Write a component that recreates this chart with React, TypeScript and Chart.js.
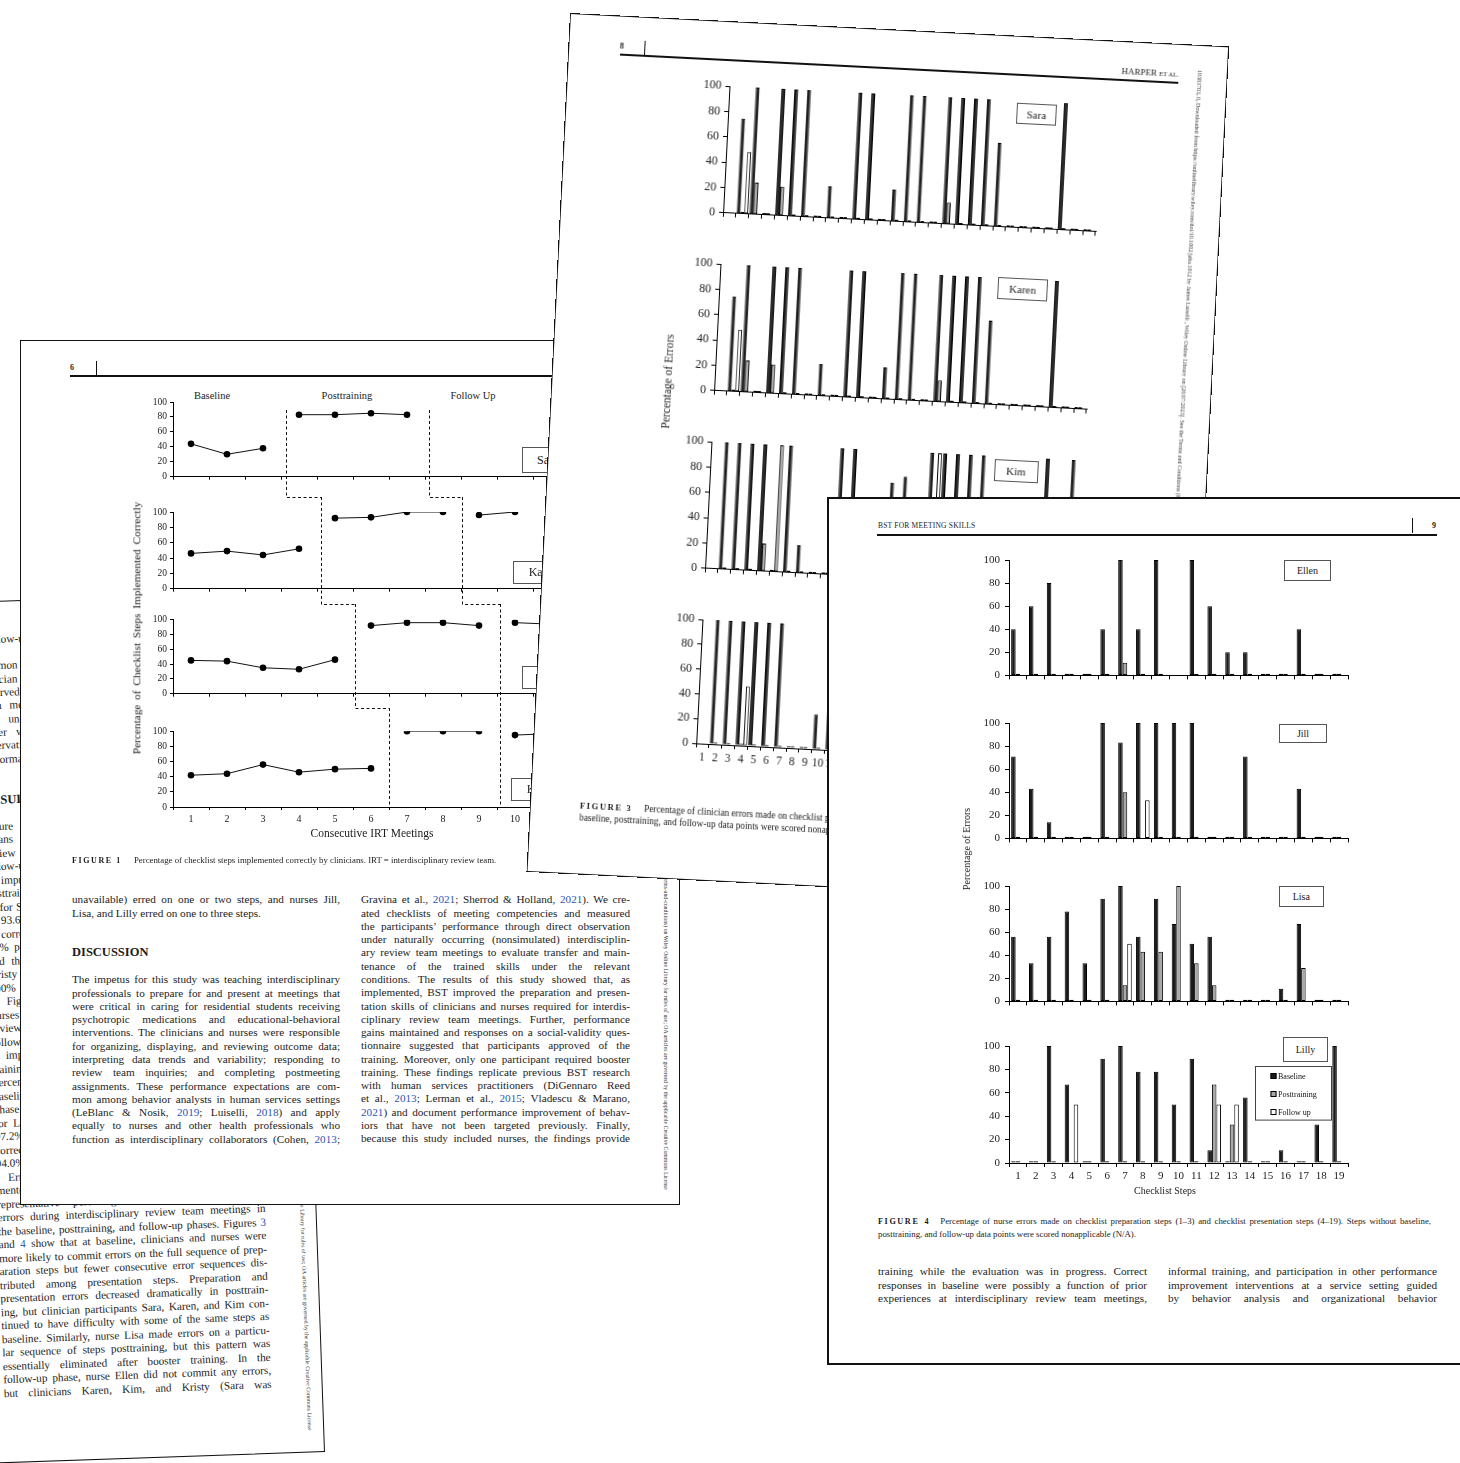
import React, { useEffect, useRef } from "react";
import { Chart, registerables } from "chart.js";

Chart.register(...registerables);

const SERIF = '"Liberation Serif", "Times New Roman", Times, serif';
Chart.defaults.font.family = SERIF;

// ================= FIGURE 4 : nurse errors (19 checklist steps) =================
const nurseSteps = ["1", "2", "3", "4", "5", "6", "7", "8", "9", "10", "11", "12", "13", "14", "15", "16", "17", "18", "19"];
const seriesNames = ["Baseline", "Posttraining", "Follow up"];

const ellenBaseline = [40, 60, 80, 1.5, 1.5, 40, 100, 40, 100, null, 100, 60, 20, 20, 1.5, 1.5, 40, 1.5, 1.5];
const ellenPost = [1.5, 1.5, 1.5, 1.5, 1.5, 1.5, 11, 1.5, 1.5, null, 1.5, 1.5, 1.5, 1.5, 1.5, 1.5, 1.5, 1.5, 1.5];
const ellenFollow = [null, null, null, null, null, null, null, null, null, null, null, null, null, null, null, null, null, null, null];

const jillBaseline = [71, 43, 14, 1.5, 1.5, 100, 83, 100, 100, 100, 100, 1.5, 1.5, 71, 1.5, 1.5, 43, 1.5, 1.5];
const jillPost = [1.5, 1.5, 1.5, 1.5, 1.5, 1.5, 40, null, 1.5, 1.5, 1.5, 1.5, 1.5, 1.5, 1.5, 1.5, 1.5, 1.5, 1.5];
const jillFollow = [null, null, null, null, null, null, null, 33, null, null, null, null, null, null, null, null, null, null, null];

const lisaBaseline = [56, 33, 56, 78, 33, 89, 100, 56, 89, 67, 50, 56, 1.5, 1.5, 1.5, 11, 67, 1.5, 1.5];
const lisaPost = [1.5, 1.5, 1.5, 1.5, 1.5, 1.5, 14, 43, 43, 100, 33, 14, 1.5, 1.5, 1.5, 1.5, 29, 1.5, 1.5];
const lisaFollow = [null, null, null, null, null, null, 50, null, null, null, null, null, null, null, null, null, null, null, null];

const lillyBaseline = [1.5, 1.5, 100, 67, 1.5, 89, 100, 78, 78, 50, 89, 11, 1.5, 56, 1.5, 11, 1.5, 33, 100];
const lillyPost = [1.5, 1.5, 1.5, null, 1.5, 1.5, 1.5, 1.5, 1.5, 1.5, 1.5, 67, 33, 1.5, 1.5, 1.5, 1.5, 1.5, 1.5];
const lillyFollow = [null, null, null, 50, null, null, null, null, null, null, null, 50, 50, null, null, null, null, null, null];

// ================= FIGURE 3 : clinician errors (29 checklist steps) =================
const clinicianSteps = ["1", "2", "3", "4", "5", "6", "7", "8", "9", "10", "11", "12", "13", "14", "15", "16", "17", "18", "19", "20", "21", "22", "23", "24", "25", "26", "27", "28", "29"];

const saraErrBaseline = [null, 75, 100, 1.5, 100, 100, 100, 1.5, 25, 1.5, 100, 100, 1.5, 25, 100, 100, 1.5, 100, 100, 100, 100, 66, 1.5, 1.5, 1.5, 1.5, 100, 1.5, 1.5];
const saraErrPost = [null, 1.5, 25, 1.5, 23, 1.5, 1.5, 1.5, 1.5, 1.5, 1.5, 1.5, 1.5, 1.5, 1.5, 1.5, 1.5, 17, 1.5, 1.5, 1.5, 1.5, 1.5, 1.5, 1.5, 1.5, 1.5, 1.5, 1.5];
const saraErrFollow = [null, 49, null, null, null, null, null, null, null, null, null, null, null, null, null, null, null, null, null, null, null, null, null, null, null, null, null, null, null];

const karenErrBaseline = [null, 75, 100, 1.5, 100, 100, 100, 1.5, 25, 1.5, 100, 100, 1.5, 25, 100, 100, 1.5, 100, 100, 100, 100, 66, 1.5, 1.5, 1.5, 1.5, 100, 1.5, 1.5];
const karenErrPost = [null, 1.5, 25, 1.5, 23, 1.5, 1.5, 1.5, 1.5, 1.5, 1.5, 1.5, 1.5, 1.5, 1.5, 1.5, 1.5, 17, 1.5, 1.5, 1.5, 1.5, 1.5, 1.5, 1.5, 1.5, 1.5, 1.5, 1.5];
const karenErrFollow = [null, 49, null, null, null, null, null, null, null, null, null, null, null, null, null, null, null, null, null, null, null, null, null, null, null, null, null, null, null];

const kimErrBaseline = [null, 100, 100, 100, 100, 1.5, 100, 22, 1.5, 1.5, 100, 100, 1.5, 1.5, 75, 80, 1.5, 100, 100, 100, 100, 100, 1.5, 1.5, 1.5, 1.5, 100, 1.5, 100];
const kimErrPost = [null, 1.5, 1.5, 1.5, 22, 100, 1.5, 1.5, 1.5, 1.5, 1.5, 1.5, 1.5, 1.5, 1.5, 1.5, 1.5, 1.5, 1.5, 1.5, 1.5, 1.5, 1.5, 1.5, 1.5, 1.5, 1.5, 1.5, 1.5];
const kimErrFollow = [null, null, null, null, null, null, null, null, null, null, null, null, null, null, null, null, null, 100, null, null, null, null, null, null, null, null, null, null, null];

const kristyErrBaseline = [null, 100, 100, 100, 100, 100, 100, 1.5, 1.5, 28, 45, 1.5, 1.5, 1.5, 1.5, 1.5, 1.5, 1.5, 1.5, 1.5, 1.5, 1.5, 1.5, 1.5, 1.5, 1.5, 1.5, 1.5, 1.5];
const kristyErrPost = [null, 1.5, 1.5, 1.5, 1.5, 1.5, 1.5, 1.5, 1.5, 1.5, 1.5, 1.5, 1.5, 1.5, 1.5, 1.5, 1.5, 1.5, 1.5, 1.5, 1.5, 1.5, 1.5, 1.5, 1.5, 1.5, 1.5, 1.5, 1.5];
const kristyErrFollow = [null, null, null, 48, null, null, null, null, null, null, null, null, null, null, null, null, null, null, null, null, null, null, null, null, null, null, null, null, null];

// ================= FIGURE 1 : % checklist steps correct per IRT meeting =================
const meetingLabels = ["1", "2", "3", "4", "5", "6", "7", "8", "9", "10", "11", "12"];
const saraCorrect = [44, 30, 38, 83, 83, 85, 83, null, null, null, null, null];
const karenCorrect = [46, 49, 44, 52, 92, 93, 100, 100, 96, 100, null, null];
const lisaCorrect = [45, 44, 35, 33, 46, 92, 96, 96, 92, 96, 94, null];
const kristyCorrect = [42, 44, 56, 46, 50, 51, 100, 100, 100, 95, 97, null];
const saraPhase = ["B", "B", "B", "P", "P", "P", "P", "F", "F", "F", "F", "F"];
const karenPhase = ["B", "B", "B", "B", "P", "P", "P", "P", "F", "F", "F", "F"];
const lisaPhase = ["B", "B", "B", "B", "B", "P", "P", "P", "P", "F", "F", "F"];
const kristyPhase = ["B", "B", "B", "B", "B", "B", "P", "P", "P", "F", "F", "F"];
const phaseOrder = ["B", "P", "F"];
const phaseTitles = ["Baseline", "Posttraining", "Follow Up"];
// positions of the dashed phase-change lines, in meeting-index units (0 = meeting 1)
const baselineChangeAt = [2.65, 3.6, 4.56, 5.5];
const followUpChangeAt = [6.6, 7.52, 8.57, 8.57];

// ================= text =================
const WILEY_NOTE =
  "19383703, 0, Downloaded from https://onlinelibrary.wiley.com/doi/10.1002/jaba.1012 by James Luiselli , Wiley Online Library on [20/07/2023]. See the Terms and Conditions (https://onlinelibrary.wiley.com/terms-and-conditions) on Wiley Online Library for rules of use; OA articles are governed by the applicable Creative Commons License";

const fig1LeftTop = ["unavailable) erred on one or two steps, and nurses Jill,", "Lisa, and Lilly erred on one to three steps.¶"];
const fig1Discussion = [
  "The impetus for this study was teaching interdisciplinary",
  "professionals to prepare for and present at meetings that",
  "were critical in caring for residential students receiving",
  "psychotropic medications and educational-behavioral",
  "interventions. The clinicians and nurses were responsible",
  "for organizing, displaying, and reviewing outcome data;",
  "interpreting data trends and variability; responding to",
  "review team inquiries; and completing postmeeting",
  "assignments. These performance expectations are com-",
  "mon among behavior analysts in human services settings",
  "(LeBlanc & Nosik, {2019}; Luiselli, {2018}) and apply",
  "equally to nurses and other health professionals who",
  "function as interdisciplinary collaborators (Cohen, {2013};",
];
const fig1Right = [
  "Gravina et al., {2021}; Sherrod & Holland, {2021}). We cre-",
  "ated checklists of meeting competencies and measured",
  "the participants’ performance through direct observation",
  "under naturally occurring (nonsimulated) interdisciplin-",
  "ary review team meetings to evaluate transfer and main-",
  "tenance of the trained skills under the relevant",
  "conditions. The results of this study showed that, as",
  "implemented, BST improved the preparation and presen-",
  "tation skills of clinicians and nurses required for interdis-",
  "ciplinary review team meetings. Further, performance",
  "gains maintained and responses on a social-validity ques-",
  "tionnaire suggested that participants approved of the",
  "training. Moreover, only one participant required booster",
  "training. These findings replicate previous BST research",
  "with human services practitioners (DiGennaro Reed",
  "et al., {2013}; Lerman et al., {2015}; Vladescu & Marano,",
  "{2021}) and document performance improvement of behav-",
  "iors that have not been targeted previously. Finally,",
  "because this study included nurses, the findings provide",
];
const fig4Left = [
  "training while the evaluation was in progress. Correct",
  "responses in baseline were possibly a function of prior",
  "experiences at interdisciplinary review team meetings,",
];
const fig4Right = [
  "informal training, and participation in other performance",
  "improvement interventions at a service setting guided",
  "by behavior analysis and organizational behavior",
];
const backTop = [
  "a follow-up meeting was scheduled each month.¶",
  "¶",
  "common among practitioners. A second observer (clin-",
  "clinician or supervisor) simultaneously but independently",
  "observed 33% of meetings in each phase for each par-",
  "team member. Agreement was calculated by dividing",
  "was unavailable for some sessions and calculated",
  "rather with agreements divided by agreements plus",
  "observation disagreements and multiplied by 100. Mean",
  "performance agreement was 96.4% (range, 90%–100%).¶",
];
const backBody = [
  "Figure {1} shows the percentage of checklist steps that",
  "means of the clinicians implemented correctly during",
  "review team meetings in the baseline, posttraining, and",
  "follow-up phases. Baseline levels were low and stable, and",
  "an improvement was evident for each clinician following",
  "posttraining. Mean correct implementation in baseline",
  "as for Sara, whose mean increased from 37.3% in baseline",
  "of 93.6% in posttraining. Karen’s mean increased to 95.8",
  "% correct, and Kim’s mean increased from 36.8% to 94.1",
  "91% posttraining, and Kristy’s increased from 47.3% to",
  "and then remained at or near 100% during follow-up.",
  "Kristy was the only clinician who required booster",
  "100% and maintained this performance during follow-up.",
  "In Figure {2}, the percentage of steps implemented by",
  "nurses during interdisciplinary review team meetings is",
  "reviewed across phases. Nurses Ellen and Jill showed",
  "follow-up data similar to posttraining. Baseline correct",
  "at implementation ranged from 40% to 55%, and post-",
  "training produced immediate improvement. Mean per-",
  "percentage correct for Ellen was 51.0% in baseline and",
  "baseline and 98.0% in posttraining; for Jill, 48.3% in",
  "phase; for Lisa, 40.2% in baseline and 84.5% posttrain-",
  "for Lilly, 43.0% in baseline and 97.2% in posttraining,",
  "97.2% correct. Lisa required booster training, after which",
  "correct implementation increased to a mean of 100% and",
  "94.0% during follow-up for all four nurses.¶",
  "»Errors were scored for each checklist step imple-",
  "mented by participants, and Figures {3} and {4} show the",
  "representative percentage of checklist steps with",
  "errors during interdisciplinary review team meetings in",
  "the baseline, posttraining, and follow-up phases. Figures {3}",
  "and {4} show that at baseline, clinicians and nurses were",
  "more likely to commit errors on the full sequence of prep-",
  "aration steps but fewer consecutive error sequences dis-",
  "tributed among presentation steps. Preparation and",
  "presentation errors decreased dramatically in posttrain-",
  "ing, but clinician participants Sara, Karen, and Kim con-",
  "tinued to have difficulty with some of the same steps as",
  "baseline. Similarly, nurse Lisa made errors on a particu-",
  "lar sequence of steps posttraining, but this pattern was",
  "essentially eliminated after booster training. In the",
  "follow-up phase, nurse Ellen did not commit any errors,",
  "but clinicians Karen, Kim, and Kristy (Sara was",
];

// ================= helpers =================
type Pad = { l: number; t: number; r: number; b: number };
type Box = { x: number; y: number; w: number; h: number };
const seriesFill = ["#1b1b1b", "#a8a8a8", "#ffffff"];

function ChartCanvas({ box, pad, make }: { box: Box; pad: Pad; make: () => any }) {
  const ref = useRef<HTMLCanvasElement | null>(null);
  const W = Math.round(box.w + pad.l + pad.r);
  const H = Math.round(box.h + pad.t + pad.b);
  useEffect(() => {
    if (!ref.current) return;
    const chart = new Chart(ref.current, make());
    return () => chart.destroy();
  }, []);
  return (
    <canvas
      ref={ref}
      width={W}
      height={H}
      style={{ position: "absolute", left: box.x - pad.l, top: box.y - pad.t, width: W, height: H, display: "block" }}
    />
  );
}

function axisOptions(pad: Pad, showX: boolean, xFont: number, yFont: number, yPad: number, tick: number) {
  return {
    x: {
      type: "category",
      offset: true,
      grid: { display: true, offset: true, drawOnChartArea: false, drawTicks: true, tickLength: tick, color: "#000", lineWidth: 1 },
      border: { display: true, color: "#000", width: 1 },
      ticks: { display: showX, autoSkip: false, maxRotation: 0, minRotation: 0, padding: 3, color: "#222", font: { family: SERIF, size: xFont } },
      afterFit: (s: any) => { s.height = pad.b; },
    },
    y: {
      type: "linear",
      min: 0,
      max: 100,
      grid: { display: true, drawOnChartArea: false, drawTicks: true, tickLength: tick, color: "#000", lineWidth: 1 },
      border: { display: true, color: "#000", width: 1 },
      ticks: { stepSize: 20, padding: yPad, color: "#222", font: { family: SERIF, size: yFont } },
      afterFit: (s: any) => { s.width = pad.l; },
    },
  };
}

function commonOptions(pad: Pad) {
  return {
    responsive: false,
    animation: false,
    devicePixelRatio: 1,
    events: [],
    layout: { padding: { left: 0, top: pad.t, right: pad.r, bottom: 0 } },
    plugins: { legend: { display: false }, tooltip: { enabled: false }, title: { display: false } },
  };
}

// boxed legend drawn inside the plot area (like the Excel legend of the original)
function boxLegendPlugin(dx: number, dy: number, w: number, h: number) {
  return {
    id: "boxLegend",
    afterDraw(chart: any) {
      const { ctx, chartArea } = chart;
      const x = Math.round(chartArea.left + dx) + 0.5;
      const y = Math.round(chartArea.top + dy) + 0.5;
      ctx.save();
      ctx.fillStyle = "#fff";
      ctx.fillRect(x, y, w, h);
      ctx.strokeStyle = "#444";
      ctx.lineWidth = 1;
      ctx.strokeRect(x, y, w, h);
      ctx.font = `8px ${SERIF}`;
      ctx.textBaseline = "middle";
      chart.data.datasets.forEach((ds: any, i: number) => {
        const cy = Math.round(y + 9 + i * 18);
        ctx.fillStyle = ds.backgroundColor;
        ctx.fillRect(x + 15, cy - 3, 6, 6);
        ctx.strokeStyle = "#000";
        ctx.strokeRect(x + 15.5, cy - 2.5, 5, 5);
        ctx.fillStyle = "#111";
        ctx.fillText(ds.label, x + 22.5, cy + 0.5);
      });
      ctx.restore();
    },
  };
}

function barConfig(labels: string[], series: any[][], pad: Pad, o: { showX: boolean; xFont: number; yFont: number; yPad: number; catPct: number }, plugins: any[] = []) {
  return {
    type: "bar",
    data: {
      labels,
      datasets: series.map((data, i) => ({
        label: seriesNames[i],
        data,
        backgroundColor: seriesFill[i],
        borderColor: "#000",
        borderWidth: 1,
        borderSkipped: false,
        categoryPercentage: o.catPct,
        barPercentage: 1,
      })),
    },
    options: { ...commonOptions(pad), scales: axisOptions(pad, o.showX, o.xFont, o.yFont, o.yPad, 4) },
    plugins,
  };
}

function phasePlugin(at: number, atF: number, next: number | null, nextF: number | null, step: number, first: boolean) {
  return {
    id: "phaseLines",
    afterDatasetsDraw(chart: any) {
      const { ctx, chartArea, scales } = chart;
      const x = scales.x;
      ctx.save();
      ctx.strokeStyle = "#111";
      ctx.lineWidth = 1;
      ctx.setLineDash([3, 2.5]);
      const pairs: [number, number | null][] = [[at, next], [atF, nextF]];
      for (const [a, n] of pairs) {
        const px = Math.round(x.getPixelForValue(a)) + 0.5;
        const y0 = first ? chartArea.top + 8 : 0;
        const y1 = n === null ? chartArea.bottom : Math.round(chartArea.bottom + step) + 0.5;
        ctx.beginPath();
        ctx.moveTo(px, y0);
        ctx.lineTo(px, y1);
        if (n !== null) ctx.lineTo(Math.round(x.getPixelForValue(n)) + 0.5, y1);
        ctx.stroke();
      }
      ctx.restore();
    },
  };
}

function lineConfig(values: (number | null)[], phases: string[], pad: Pad, showX: boolean, plugin: any) {
  return {
    type: "line",
    data: {
      labels: meetingLabels,
      datasets: phaseOrder.map((ph) => ({
        data: values.map((v, i) => (phases[i] === ph ? v : null)),
        borderColor: "#111",
        borderWidth: 1,
        pointRadius: 3.3,
        pointBackgroundColor: "#000",
        pointBorderColor: "#000",
        pointBorderWidth: 0,
        spanGaps: false,
        tension: 0,
        fill: false,
      })),
    },
    options: { ...commonOptions(pad), scales: axisOptions(pad, showX, 10, 9.5, 3, 3) },
    plugins: [plugin],
  };
}

function rich(s: string) {
  return s.split(/(\{[^}]*\})/).map((p, i) =>
    p.startsWith("{") ? <span key={i} style={{ color: "#2b55b8" }}>{p.slice(1, -1)}</span> : <span key={i}>{p}</span>
  );
}

function TextBlock({ x, y, w, lh, size, lines, color = "#1c1c1c" }: any) {
  return (
    <div style={{ position: "absolute", left: x, top: y, width: w, fontFamily: SERIF, fontSize: size, color }}>
      {lines.map((ln: string, i: number) => {
        const last = ln.endsWith("¶");
        let t = last ? ln.slice(0, -1) : ln;
        const indent = t.startsWith("»");
        if (indent) t = t.slice(1);
        return (
          <div
            key={i}
            style={{
              position: "absolute",
              left: 0,
              top: i * lh,
              width: w,
              height: lh,
              lineHeight: `${lh}px`,
              whiteSpace: "nowrap",
              textAlign: last ? "left" : "justify",
              textAlignLast: last ? "left" : "justify",
              textIndent: indent ? 12 : 0,
            }}
          >
            {rich(t)}
          </div>
        );
      })}
    </div>
  );
}

function Txt({ x, y, size, children, bold, center, style }: any) {
  return (
    <div
      style={{
        position: "absolute",
        left: x,
        top: y,
        transform: center ? "translate(-50%,-50%)" : "translateY(-50%)",
        whiteSpace: "nowrap",
        fontFamily: SERIF,
        fontSize: size,
        fontWeight: bold ? 700 : 400,
        color: "#1c1c1c",
        lineHeight: 1,
        ...style,
      }}
    >
      {children}
    </div>
  );
}

function VTitle({ cx, cy, size, text, ws = 0 }: any) {
  return (
    <div
      style={{
        position: "absolute",
        left: cx,
        top: cy,
        transform: "translate(-50%,-50%) rotate(-90deg)",
        whiteSpace: "nowrap",
        fontFamily: SERIF,
        fontSize: size,
        color: "#222",
        wordSpacing: ws,
        lineHeight: 1,
      }}
    >
      {text}
    </div>
  );
}

function NameBox({ x, y, w, h, text, size }: any) {
  return (
    <div
      style={{
        position: "absolute", left: x, top: y, width: w, height: h, boxSizing: "border-box",
        border: "1px solid #555", background: "#fff", display: "flex", alignItems: "center",
        justifyContent: "center", fontFamily: SERIF, fontSize: size, color: "#222",
      }}
    >
      {text}
    </div>
  );
}

function MarginNote({ x, top, bottom, size }: any) {
  return (
    <div
      style={{
        position: "absolute", left: x, top, bottom, writingMode: "vertical-rl", whiteSpace: "nowrap",
        fontFamily: SERIF, fontSize: size, color: "#333", lineHeight: 1,
      }}
    >
      {WILEY_NOTE}
    </div>
  );
}

function Frame({ w = 2 }: any) {
  return <div style={{ position: "absolute", inset: 0, border: `${w}px solid #111`, pointerEvents: "none" }} />;
}

function Header({ num, numX, barX, y, ruleFrom, ruleTo, right }: any) {
  return (
    <>
      <Txt x={numX} y={y - 7} size={8} bold center>{num}</Txt>
      <div style={{ position: "absolute", left: barX, top: y - 14, width: 1.3, height: 14, background: "#111" }} />
      <div style={{ position: "absolute", left: ruleFrom, top: y, width: ruleTo - ruleFrom, height: 1.5, background: "#111" }} />
      {right}
    </>
  );
}

// ================= pages =================
function BackPage() {
  return (
    <div style={{ position: "absolute", left: -335, top: 590, width: 660, height: 862, background: "#fff", transform: "rotate(-2deg)", transformOrigin: "100% 100%" }}>
      <TextBlock x={341} y={41.5 - 6.65 - 3} w={268} lh={13.3} size={11.2} lines={backTop} />
      <Txt x={341} y={199.4} size={12.5} bold>RESULTS</Txt>
      <TextBlock x={341} y={229.4 - 6.75 - 4} w={268} lh={13.5} size={11.2} lines={backBody} />
      <MarginNote x={642} bottom={22} size={5.8} />
      <Frame w={1.6} />
    </div>
  );
}

const fig1Area = { x: 153.3, w: 432 };
const fig1Panels = [
  { name: "Sara", values: saraCorrect, phases: saraPhase, top: 61.7, h: 75, step: 20.3, box: { x: 501.7, y: 107, w: 52, h: 26 } },
  { name: "Karen", values: karenCorrect, phases: karenPhase, top: 172, h: 76.7, step: 15.3, box: { x: 493.3, y: 220.7, w: 60, h: 23 } },
  { name: "Lisa", values: lisaCorrect, phases: lisaPhase, top: 279.7, h: 74, step: 14.3, box: { x: 502.3, y: 326, w: 52, h: 23 } },
  { name: "Kristy", values: kristyCorrect, phases: kristyPhase, top: 391.3, h: 75.4, step: 0, box: { x: 490.7, y: 438.3, w: 62, h: 23 } },
];

function Fig1Page() {
  return (
    <div style={{ position: "absolute", left: 20, top: 340, width: 660, height: 865, background: "#fff" }}>
      <Header num="6" numX={52} barX={76} y={35} ruleFrom={50} ruleTo={640} />
      <Txt x={192} y={56} size={10.5} center>{phaseTitles[0]}</Txt>
      <Txt x={327} y={56} size={10.5} center>{phaseTitles[1]}</Txt>
      <Txt x={453} y={56} size={10.5} center>{phaseTitles[2]}</Txt>
      {fig1Panels.map((p, i) => {
        const last = i === fig1Panels.length - 1;
        const prev = fig1Panels[i - 1];
        const padT = i === 0 ? 20 : p.top - (prev.top + prev.h + prev.step);
        const pad = { l: 35, t: padT, r: 8, b: last ? 22 : p.step + 1 };
        const plugin = phasePlugin(
          baselineChangeAt[i], followUpChangeAt[i],
          last ? null : baselineChangeAt[i + 1], last ? null : followUpChangeAt[i + 1],
          p.step, i === 0
        );
        return (
          <ChartCanvas
            key={p.name}
            box={{ x: fig1Area.x, y: p.top, w: fig1Area.w, h: p.h }}
            pad={pad}
            make={() => lineConfig(p.values, p.phases, pad, last, plugin)}
          />
        );
      })}
      {fig1Panels.map((p) => (
        <NameBox key={p.name + "b"} {...p.box} text={p.name} size={12} />
      ))}
      <VTitle cx={117} cy={288} size={11.3} ws={2} text="Percentage of Checklist Steps Implemented Correctly" />
      <Txt x={352} y={494} size={11.5} center>Consecutive IRT Meetings</Txt>
      <Txt x={52} y={520} size={8.8}>
        <b style={{ letterSpacing: 1.6, fontSize: 8 }}>FIGURE 1</b>
        <span style={{ marginLeft: 12 }}>Percentage of checklist steps implemented correctly by clinicians. IRT = interdisciplinary review team.</span>
      </Txt>
      <TextBlock x={52} y={560 - 6.6} w={268} lh={13.27} size={11.2} lines={fig1LeftTop} />
      <Txt x={52} y={612} size={12.5} bold>DISCUSSION</Txt>
      <TextBlock x={52} y={640 - 6.6} w={268} lh={13.27} size={11.2} lines={fig1Discussion} />
      <TextBlock x={341} y={560 - 6.6} w={269} lh={13.27} size={11.2} lines={fig1Right} />
      <MarginNote x={642} bottom={15} size={5.8} />
      <Frame w={1.8} />
    </div>
  );
}

const fig3Area = { x: 163, w: 373 };
const fig3Panels = [
  { name: "Sara", series: [saraErrBaseline, saraErrPost, saraErrFollow], top: 65, h: 127.5, box: { x: 451, y: 67, w: 40, h: 21 } },
  { name: "Karen", series: [karenErrBaseline, karenErrPost, karenErrFollow], top: 243.2, h: 127.7, box: { x: 441, y: 241.7, w: 50, h: 22 } },
  { name: "Kim", series: [kimErrBaseline, kimErrPost, kimErrFollow], top: 421.4, h: 128, box: { x: 446.5, y: 424.2, w: 44, h: 22 } },
  { name: "Kristy", series: [kristyErrBaseline, kristyErrPost, kristyErrFollow], top: 599.4, h: 123.5, box: { x: 441, y: 602, w: 50, h: 22 } },
];

function Fig3Page() {
  return (
    <div style={{ position: "absolute", left: 570, top: 13, width: 660, height: 860, background: "#fff", transform: "rotate(2.9deg)", transformOrigin: "0 0" }}>
      <Header
        num="8" numX={53.5} barX={76} y={38} ruleFrom={52} ruleTo={611}
        right={
          <div style={{ position: "absolute", right: 660 - 611, top: 25, fontFamily: SERIF, fontSize: 9, color: "#1c1c1c", whiteSpace: "nowrap" }}>
            HARPER <span style={{ fontSize: 6.5 }}>ET AL.</span>
          </div>
        }
      />
      {fig3Panels.map((p, i) => {
        const last = i === fig3Panels.length - 1;
        const pad = { l: 40, t: 14, r: 10, b: last ? 26 : 10 };
        return (
          <ChartCanvas
            key={p.name}
            box={{ x: fig3Area.x, y: p.top, w: fig3Area.w, h: p.h }}
            pad={pad}
            make={() => barConfig(clinicianSteps, p.series, pad, { showX: last, xFont: 11.5, yFont: 12, yPad: 4, catPct: 0.9 })}
          />
        );
      })}
      {fig3Panels.map((p) => (
        <NameBox key={p.name + "b"} {...p.box} text={p.name} size={11} />
      ))}
      <VTitle cx={116.5} cy={362.6} size={11.5} text="Percentage of Errors" />
      <div style={{ position: "absolute", left: 50, top: 785, width: 560, fontFamily: SERIF, fontSize: 9.3, lineHeight: "12px", color: "#1c1c1c", whiteSpace: "nowrap" }}>
        <div>
          <b style={{ letterSpacing: 1.6, fontSize: 8.5 }}>FIGURE 3</b>
          <span style={{ marginLeft: 12 }}>Percentage of clinician errors made on checklist preparation steps (1–10) and checklist presentation steps (11–29). Steps without</span>
        </div>
        <div>baseline, posttraining, and follow-up data points were scored nonapplicable (N/A).</div>
      </div>
      <MarginNote x={629} top={25} size={6} />
      <Frame w={1.8} />
    </div>
  );
}

const fig4Area = { x: 182, w: 338.5, h: 116.6 };
const fig4Panels = [
  { name: "Ellen", series: [ellenBaseline, ellenPost, ellenFollow], top: 63, box: { x: 457, y: 63, w: 47, h: 21 } },
  { name: "Jill", series: [jillBaseline, jillPost, jillFollow], top: 225.7, box: { x: 452, y: 227, w: 48, h: 19 } },
  { name: "Lisa", series: [lisaBaseline, lisaPost, lisaFollow], top: 388.7, box: { x: 452, y: 389, w: 44.5, h: 21 } },
  { name: "Lilly", series: [lillyBaseline, lillyPost, lillyFollow], top: 548.7, box: { x: 456, y: 540, w: 45, h: 25 } },
];

function Fig4Page() {
  return (
    <div style={{ position: "absolute", left: 827, top: 497, width: 700, height: 868, background: "#fff" }}>
      <Txt x={51} y={29} size={7.5} style={{ letterSpacing: 0.2 }}>BST FOR MEETING SKILLS</Txt>
      <div style={{ position: "absolute", left: 585, top: 21, width: 1.3, height: 15, background: "#111" }} />
      <Txt x={607} y={29} size={8} bold center>9</Txt>
      <div style={{ position: "absolute", left: 50, top: 37, width: 560, height: 1.5, background: "#111" }} />
      {fig4Panels.map((p, i) => {
        const last = i === fig4Panels.length - 1;
        const pad = { l: 45, t: 12, r: 8, b: last ? 24 : 10 };
        const extra = last ? [boxLegendPlugin(245.6, 20, 76, 53.6)] : [];
        return (
          <ChartCanvas
            key={p.name}
            box={{ x: fig4Area.x, y: p.top, w: fig4Area.w, h: fig4Area.h }}
            pad={pad}
            make={() => barConfig(nurseSteps, p.series, pad, { showX: last, xFont: 11, yFont: 11, yPad: 5, catPct: 0.76 }, extra)}
          />
        );
      })}
      {fig4Panels.map((p) => (
        <NameBox key={p.name + "b"} {...p.box} text={p.name} size={10} />
      ))}
      <VTitle cx={140} cy={352} size={10} text="Percentage of Errors" />
      <Txt x={338} y={694} size={10} center>Checklist Steps</Txt>
      <div style={{ position: "absolute", left: 51, top: 718, width: 553, fontFamily: SERIF, fontSize: 8.8, lineHeight: "12px", color: "#1c1c1c" }}>
        <div style={{ whiteSpace: "nowrap", textAlign: "justify", textAlignLast: "justify" }}>
          <b style={{ letterSpacing: 1.6, fontSize: 8.2 }}>FIGURE 4</b>
          <span style={{ marginLeft: 10 }}>Percentage of nurse errors made on checklist preparation steps (1–3) and checklist presentation steps (4–19). Steps without baseline,</span>
        </div>
        <div style={{ whiteSpace: "nowrap" }}>posttraining, and follow-up data points were scored nonapplicable (N/A).</div>
      </div>
      <TextBlock x={51} y={775 - 6.6} w={269} lh={13.2} size={11.2} lines={fig4Left} />
      <TextBlock x={341} y={775 - 6.6} w={269} lh={13.2} size={11.2} lines={fig4Right} />
      <Frame w={2} />
    </div>
  );
}

export default function App() {
  return (
    <div style={{ position: "absolute", left: 0, top: 0, width: 1460, height: 1463, overflow: "hidden", background: "#fff" }}>
      <BackPage />
      <Fig1Page />
      <Fig3Page />
      <Fig4Page />
    </div>
  );
}
